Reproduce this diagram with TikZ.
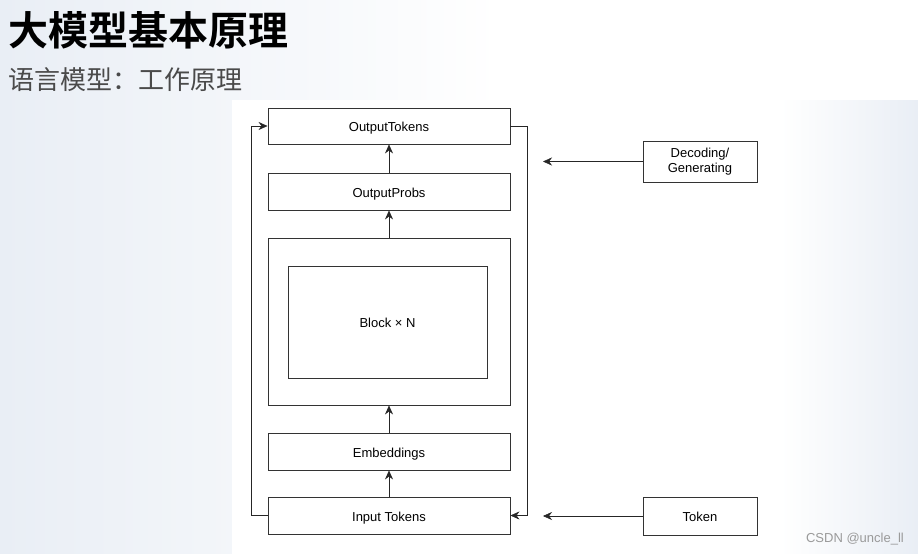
\documentclass[tikz,border=0pt]{standalone}
\usepackage{fontspec}
\setmainfont{Liberation Sans}
\newfontfamily\cjk{Noto Sans CJK SC}
\newfontfamily\cjkbold{Noto Sans CJK SC Bold}
\usetikzlibrary{arrows.meta}
\definecolor{bgblue}{HTML}{E9EEF5}
\definecolor{subgray}{HTML}{4A4A4A}
\definecolor{wm}{HTML}{9A9A9A}
\begin{document}
\begin{tikzpicture}[x=1pt,y=-1pt,
  box/.style={draw=black!80,line width=0.9pt,fill=white,inner sep=0pt,font=\fontsize{13}{15}\selectfont,text height=11pt,text depth=0pt},
  conn/.style={draw=black!85,line width=0.9pt,-{Stealth[length=9pt,width=8pt,inset=3pt,line width=0.5pt]}}]
\useasboundingbox (0,0) rectangle (918,554);
\shade[left color=bgblue,right color=white] (0,0) rectangle (500,554);
\fill[white] (500,0) rectangle (918,554);
\shade[left color=white,right color=bgblue] (780,100) rectangle (918,554);
\fill[white] (232,100) rectangle (780,554);
% title
\node[anchor=west,inner sep=0pt,font=\cjkbold\fontsize{40}{44}\selectfont] (title) at (8,30) {大模型基本原理};
\node[anchor=west,inner sep=0pt,text=subgray,font=\cjk\fontsize{26}{28}\selectfont] (sub) at (8,80) {语言模型：工作原理};
% boxes
\node[box,minimum width=242pt,minimum height=36pt] (ot) at (389,126) {OutputTokens};
\node[box,minimum width=242pt,minimum height=37pt] (op) at (389,191.5) {OutputProbs};
\node[box,minimum width=242pt,minimum height=167pt] (blk) at (389,321.5) {};
\node[box,minimum width=199pt,minimum height=112pt] (inner) at (387.5,322) {Block × N};
\node[box,minimum width=242pt,minimum height=37pt] (emb) at (389,451.5) {Embeddings};
\node[box,minimum width=242pt,minimum height=37pt] (it) at (389,515.5) {Input Tokens};
\node[box,minimum width=114pt,minimum height=41pt,align=center,text height=,text depth=,font=\fontsize{13}{14.5}\selectfont] (dec) at (700,161.5) {Decoding/\\Generating};
\node[box,minimum width=114pt,minimum height=38pt] (tok) at (700,516) {Token};
% connectors
\draw[conn] (it.north) -- (emb.south);
\draw[conn] (emb.north) -- (blk.south);
\draw[conn] (blk.north) -- (op.south);
\draw[conn] (op.north) -- (ot.south);
\draw[conn] (it.west) -- (251,515.5) |- (ot.west);
\draw[conn] (ot.east) -- (527,126) |- (it.east);
\coordinate (decend) at (543,161.5);
\coordinate (tokend) at (543,516);
\draw[conn] (dec.west) -- (decend);
\draw[conn] (tok.west) -- (tokend);
% watermark
\node[anchor=east,inner sep=0pt,text=wm,font=\fontsize{13}{15}\selectfont] (wmk) at (904,539) {CSDN @uncle\_ll};
\end{tikzpicture}
\end{document}
